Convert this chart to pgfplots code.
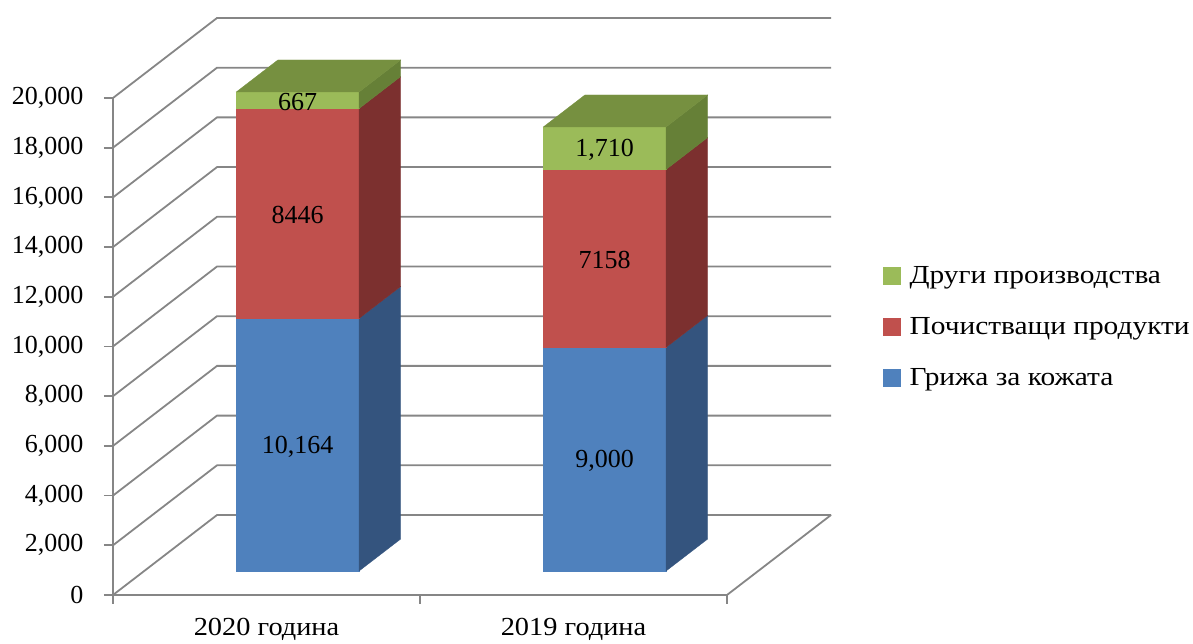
\documentclass[border=0pt]{standalone}
\usepackage{fontspec}
\setmainfont{Liberation Serif}
\newfontfamily\legfont[FakeStretch=1.13]{Liberation Serif}
\newfontfamily\xlfont[FakeStretch=1.09]{Liberation Serif}
\usepackage{pgfplots}
\pgfplotsset{compat=1.18}
\usepackage{pgfplotstable}

\definecolor{blueF}{RGB}{79,129,189}
\definecolor{blueS}{RGB}{52,84,126}
\definecolor{redF}{RGB}{192,80,77}
\definecolor{redS}{RGB}{124,48,47}
\definecolor{greenF}{RGB}{155,187,89}
\definecolor{greenS}{RGB}{102,128,55}
\definecolor{greenT}{RGB}{118,144,64}
\definecolor{gridc}{RGB}{134,134,134}

\newcommand\DX{0.3388}
\newcommand\DY{3219}
\newcommand\fs{\fontsize{26pt}{31pt}\selectfont}

\pgfplotsset{
 /pgfplots/table/cube/.style={row sep=\\, x expr=\thisrow{c}+0.2*\thisrow{s}+\DX*\thisrow{d}, y expr=\thisrow{v}+\DY*\thisrow{d}},
 /pgfplots/table/wall/.style={row sep=\\, x expr=\thisrow{c}+\DX*\thisrow{d}, y expr=\thisrow{v}+\DY*\thisrow{d}},
}

% segment: c, v0, v1, front colour, side colour
\newcommand\seg[5]{%
 \addplot[fill=#4, draw=#4, line width=0.3pt, forget plot] table[cube] {c s v d\\ #1 -1 #2 0.3\\ #1 1 #2 0.3\\ #1 1 #3 0.3\\ #1 -1 #3 0.3\\} -- cycle;
 \addplot[fill=#5, draw=#5, line width=0.3pt, forget plot] table[cube] {c s v d\\ #1 1 #2 0.3\\ #1 1 #2 0.7\\ #1 1 #3 0.7\\ #1 1 #3 0.3\\} -- cycle;
}
\newcommand\topface[3]{%
 \addplot[fill=#3, draw=#3, line width=0.3pt, forget plot] table[cube] {c s v d\\ #1 -1 #2 0.3\\ #1 1 #2 0.3\\ #1 1 #2 0.7\\ #1 -1 #2 0.7\\} -- cycle;
}
\newcommand\gline[1]{%
 \addplot[gridc, line width=1.8pt, forget plot] table[wall] {c v d\\ -0.5 #1 0\\ -0.5 #1 1\\ 1.5 #1 1\\};
}

\begin{document}
\begin{tikzpicture}
\path[use as bounding box] (0,0) rectangle (1193pt,644pt);
\begin{axis}[
 at={(113pt,49pt)}, anchor=south west,
 scale only axis, width=718pt, height=577pt,
 xmin=-0.5, xmax=1.8388, ymin=0, ymax=23219,
 clip=false, scaled y ticks=false, scaled x ticks=false,
 axis lines*=left, axis line style={draw=none},
 xtick={-0.5,0.5,1.5}, xticklabels={,,},
 extra x ticks={0,1}, extra x tick labels={2020 година,2019 година},
 extra x tick style={major tick length=0pt, xticklabel style={yshift=-20pt, font=\fs\xlfont}},
 ytick={0,2000,4000,6000,8000,10000,12000,14000,16000,18000,20000},
 yticklabels={0,{2,000},{4,000},{6,000},{8,000},{10,000},{12,000},{14,000},{16,000},{18,000},{20,000}},
 yticklabel style={xshift=-17pt},
 tick align=outside, major tick length=9pt,
 tick style={gridc, line width=1.8pt},
 ticklabel style={font=\fs, text=black},
 legend cell align=left,
 legend style={draw=none, fill=none, at={(axis description cs:1.0724,0.4645)}, anchor=west,
   font=\fs\legfont, row sep=28.5pt, inner sep=0pt,
   /tikz/every odd column/.append style={column sep=7pt}},
]
% walls and floor
\gline{0}\gline{2000}\gline{4000}\gline{6000}\gline{8000}\gline{10000}
\gline{12000}\gline{14000}\gline{16000}\gline{18000}\gline{20000}
\addplot[gridc, line width=1.8pt, forget plot] table[wall] {c v d\\ -0.5 0 0\\ 1.5 0 0\\ 1.5 0 1\\};
\addplot[gridc, line width=1.8pt, forget plot] table[wall] {c v d\\ -0.5 0 0\\ -0.5 20000 0\\};
% bars (cumulative stack values)
\seg{0}{0}{10164}{blueF}{blueS}
\seg{0}{10164}{18610}{redF}{redS}
\seg{0}{18610}{19277}{greenF}{greenS}
\topface{0}{19277}{greenT}
\seg{1}{0}{9000}{blueF}{blueS}
\seg{1}{9000}{16158}{redF}{redS}
\seg{1}{16158}{17868}{greenF}{greenS}
\topface{1}{17868}{greenT}
% data labels
\addplot[draw=none, mark=none, forget plot, nodes near coords, nodes near coords align={center},
  point meta=explicit symbolic, every node near coord/.append style={font=\fs, text=black, yshift=-2pt}]
  table[row sep=\\, meta=lab, x expr=\thisrow{c}+\DX*0.3, y expr=\thisrow{v}+\DY*0.3]
  {c v lab\\ 0 5082 10,164\\ 0 14387 8446\\ 0 18943.5 667\\ 1 4500 9,000\\ 1 12579 7158\\ 1 17013 1,710\\};
% legend
\addlegendimage{legend image code/.code={\fill[greenF] (0pt,-8.5pt) rectangle (17pt,8.5pt);}}
\addlegendentry{Други производства}
\addlegendimage{legend image code/.code={\fill[redF] (0pt,-8.5pt) rectangle (17pt,8.5pt);}}
\addlegendentry{Почистващи продукти}
\addlegendimage{legend image code/.code={\fill[blueF] (0pt,-8.5pt) rectangle (17pt,8.5pt);}}
\addlegendentry{Грижа за кожата}
\end{axis}
\end{tikzpicture}
\end{document}
